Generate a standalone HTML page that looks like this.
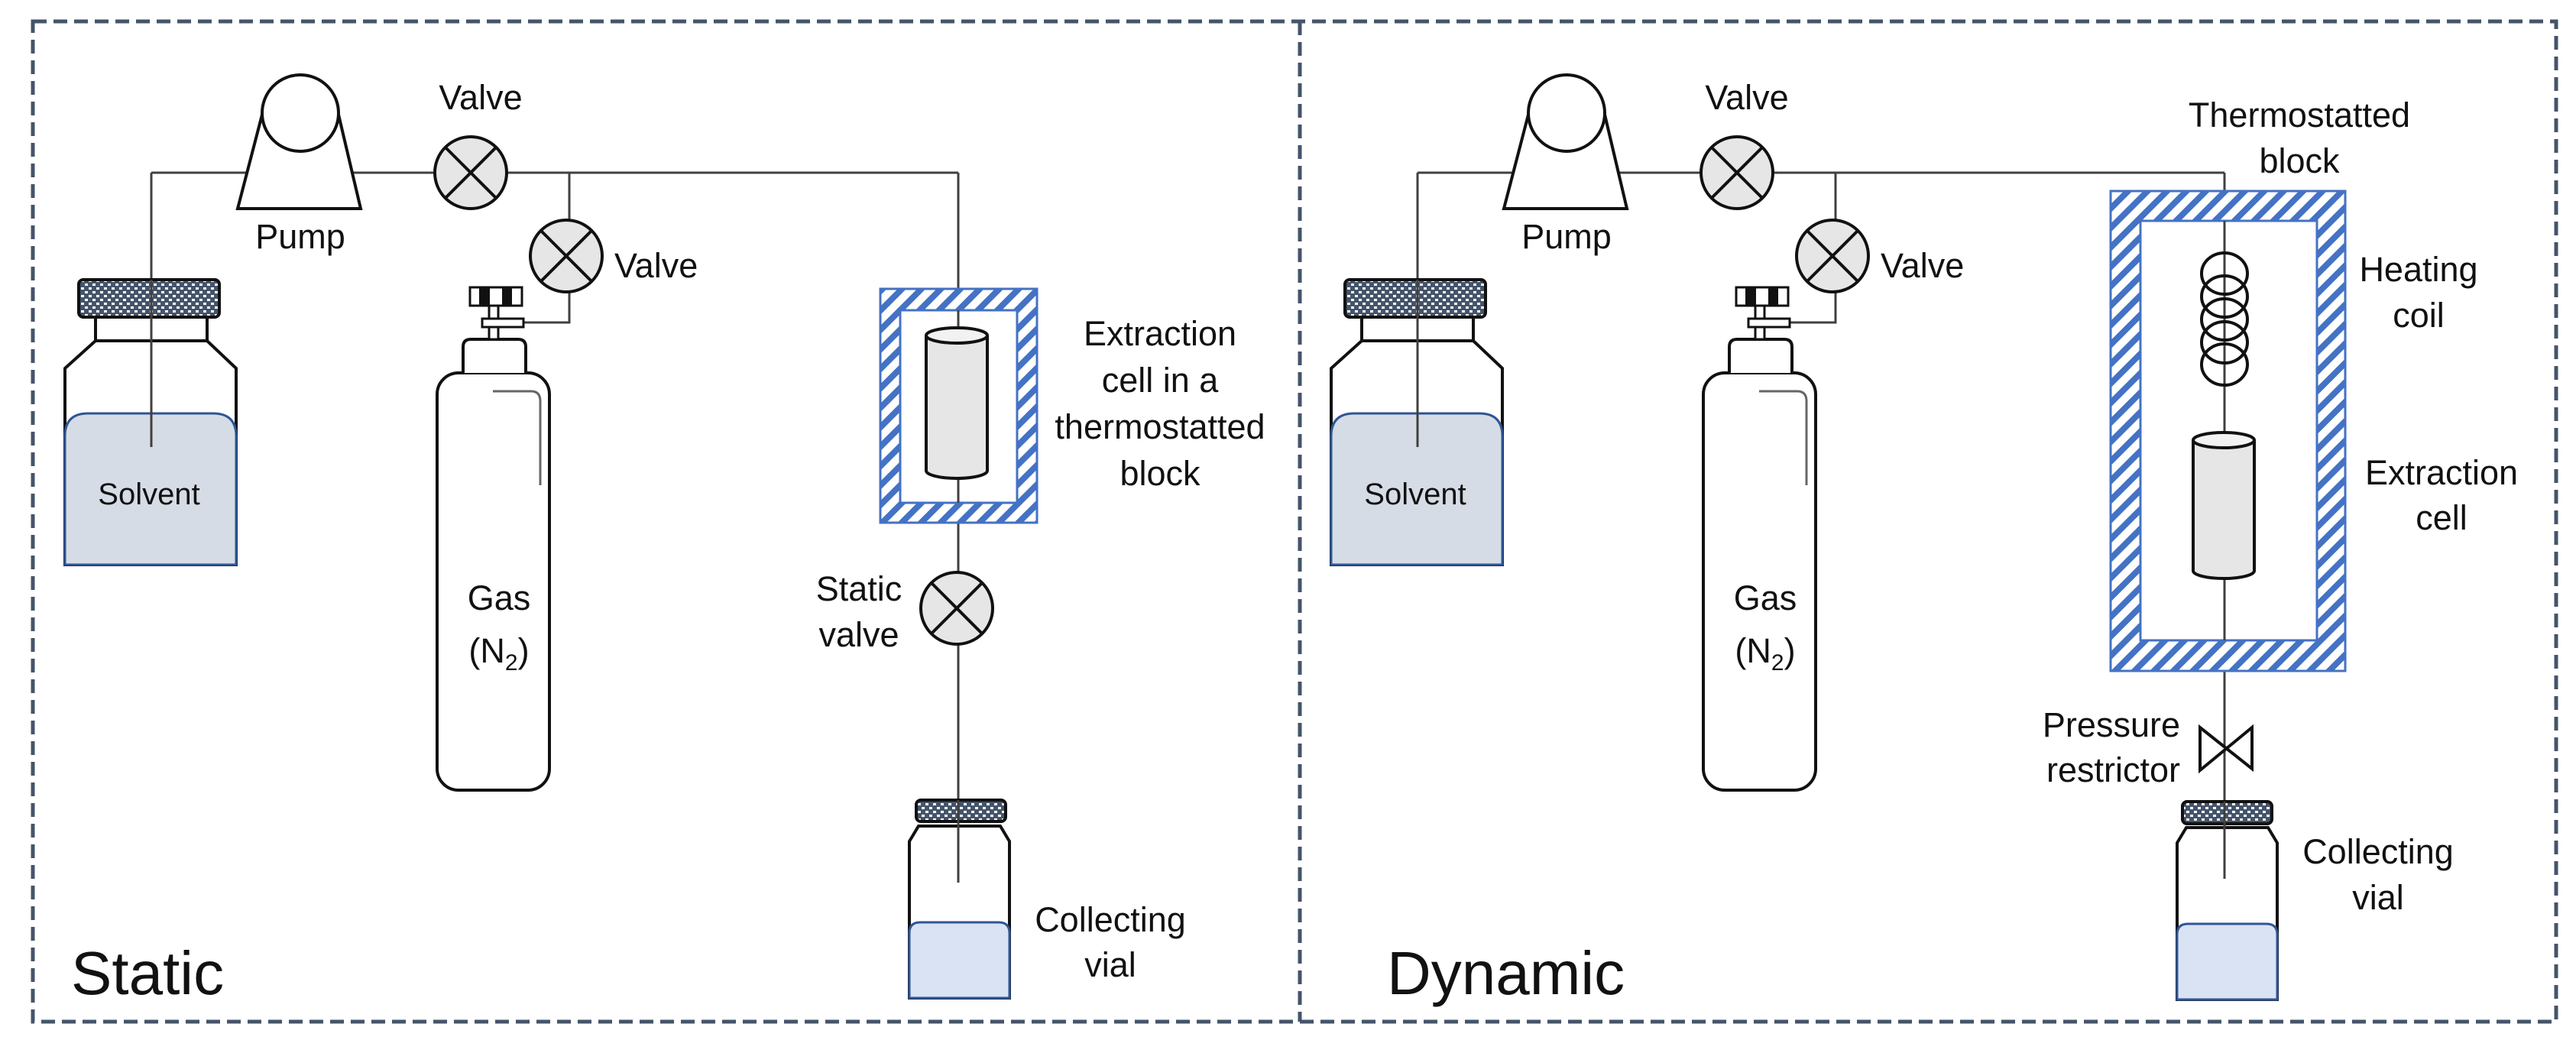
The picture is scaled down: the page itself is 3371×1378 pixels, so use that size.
<!DOCTYPE html>
<html><head><meta charset="utf-8"><style>html,body{margin:0;padding:0;background:#fff}svg{display:block}text{font-family:"Liberation Sans",Arial,sans-serif;fill:#111}</style></head>
<body>
<svg width="3371" height="1378" viewBox="0 0 3371 1378" xmlns="http://www.w3.org/2000/svg">
<defs>
<pattern id="hatch" patternUnits="userSpaceOnUse" width="18" height="18" patternTransform="rotate(45)">
<rect width="18" height="18" fill="#fff"/><rect width="8" height="18" fill="#4472c4"/>
</pattern>
<pattern id="chk" patternUnits="userSpaceOnUse" width="10" height="10">
<rect width="10" height="10" fill="#44546a"/><rect x="1" y="1" width="4" height="3" fill="#fff"/><rect x="6" y="6" width="4" height="3" fill="#fff"/>
</pattern>
<g id="valve"><circle r="47" fill="#e7e6e6" stroke="#111" stroke-width="4"/><line x1="-33" y1="-33" x2="33" y2="33" stroke="#111" stroke-width="4"/><line x1="33" y1="-33" x2="-33" y2="33" stroke="#111" stroke-width="4"/></g>
<g id="common">
<polyline points="198,585 198,226" fill="none" stroke="#404040" stroke-width="3"/>
<line x1="198" y1="226" x2="1254" y2="226" stroke="#404040" stroke-width="3"/>
<polyline points="745,226 745,422 685,422" fill="none" stroke="#404040" stroke-width="3"/>
<polygon points="343,150 443,150 472,273 311,273" fill="#fff" stroke="#111" stroke-width="4"/>
<circle cx="393" cy="148" r="50" fill="#fff" stroke="#111" stroke-width="4"/>
<text x="393" y="325" font-size="45" text-anchor="middle">Pump</text>
<use href="#valve" x="616" y="226"/>
<text x="629" y="143" font-size="45" text-anchor="middle">Valve</text>
<use href="#valve" x="741" y="335"/>
<text x="804" y="363" font-size="45">Valve</text>
<rect x="572" y="488" width="147" height="546" rx="28" fill="#fff" stroke="#111" stroke-width="4"/>
<path d="M606,488 L606,454 Q606,444 616,444 L678,444 Q688,444 688,454 L688,488" fill="#fff" stroke="#111" stroke-width="4"/>
<rect x="640" y="400" width="12" height="44" fill="#fff" stroke="#111" stroke-width="3"/>
<rect x="631" y="417" width="54" height="11" fill="#fff" stroke="#111" stroke-width="3"/>
<rect x="615" y="376" width="68" height="24" fill="#fff" stroke="#111" stroke-width="3"/>
<rect x="627" y="376" width="14" height="24" fill="#111"/><rect x="657" y="376" width="13" height="24" fill="#111"/>
<path d="M645,512 L695,512 Q707,512 707,525 L707,635" fill="none" stroke="#666" stroke-width="3"/>
<text x="653" y="798" font-size="45" text-anchor="middle">Gas</text>
<text x="653" y="867" font-size="45" text-anchor="middle">(N<tspan font-size="30" dy="10">2</tspan><tspan dy="-10">)</tspan></text>
<path d="M125,446 L271,446 L309,482 L309,739 L85,739 L85,482 Z" fill="#fff" stroke="#111" stroke-width="4"/>
<rect x="125" y="415" width="146" height="31" fill="#fff" stroke="#111" stroke-width="4"/>
<path d="M85,739 L85,571 Q85,541 115,541 L279,541 Q309,541 309,571 L309,739 Z" fill="#d6dce5" stroke="#2f5597" stroke-width="3"/>
<rect x="103" y="366" width="184" height="49" rx="6" fill="url(#chk)" stroke="#111" stroke-width="4"/>
<line x1="198" y1="366" x2="198" y2="585" stroke="#404040" stroke-width="3"/>
<text x="195" y="660" font-size="40" text-anchor="middle">Solvent</text>
</g>
<g id="vial">
<path d="M12,0 L119,0 L131,20 L131,225 L0,225 L0,20 Z" fill="#fff" stroke="#111" stroke-width="4"/>
<path d="M0,225 L0,140 Q0,126 14,126 L117,126 Q131,126 131,140 L131,225 Z" fill="#dae3f3" stroke="#2f5597" stroke-width="3"/>
</g>
</defs>

<g fill="none" stroke="#44546a" stroke-width="5" stroke-dasharray="18 9">
<rect x="43" y="28" width="3302" height="1309"/>
<line x1="1701" y1="28" x2="1701" y2="1337"/>
</g>

<use href="#common"/>
<line x1="1254" y1="226" x2="1254" y2="1155" stroke="#404040" stroke-width="3"/>
<rect x="1152" y="378" width="205" height="306" fill="url(#hatch)" stroke="#4472c4" stroke-width="3"/>
<rect x="1178" y="406" width="153" height="252" fill="#fff" stroke="#4472c4" stroke-width="3"/>
<line x1="1254" y1="406" x2="1254" y2="658" stroke="#404040" stroke-width="3"/>
<path d="M1212,439 L1212,616 A40,10 0 0 0 1292,616 L1292,439" fill="#e7e6e6" stroke="#111" stroke-width="4"/>
<ellipse cx="1252" cy="439" rx="40" ry="10" fill="#f2f2f2" stroke="#111" stroke-width="4"/>
<text font-size="45" text-anchor="middle"><tspan x="1518" y="452">Extraction</tspan><tspan x="1518" y="513">cell in a</tspan><tspan x="1518" y="574">thermostatted</tspan><tspan x="1518" y="635">block</tspan></text>
<use href="#valve" x="1252" y="796"/>
<text font-size="45" text-anchor="middle"><tspan x="1124" y="786">Static</tspan><tspan x="1124" y="846">valve</tspan></text>
<use href="#vial" x="1190" y="1081"/>
<rect x="1199" y="1047" width="117" height="28" rx="6" fill="url(#chk)" stroke="#111" stroke-width="4"/>
<line x1="1254" y1="1047" x2="1254" y2="1155" stroke="#404040" stroke-width="3"/>
<text font-size="45" text-anchor="middle"><tspan x="1453" y="1219">Collecting</tspan><tspan x="1453" y="1278">vial</tspan></text>
<text x="93" y="1301" font-size="80">Static</text>

<use href="#common" x="1657"/>
<line x1="2500" y1="226" x2="2911" y2="226" stroke="#404040" stroke-width="3"/>
<line x1="2911" y1="226" x2="2911" y2="1150" stroke="#404040" stroke-width="3"/>
<rect x="2762" y="250" width="307" height="628" fill="url(#hatch)" stroke="#4472c4" stroke-width="3"/>
<rect x="2801" y="289" width="231" height="549" fill="#fff" stroke="#4472c4" stroke-width="3"/>
<line x1="2911" y1="289" x2="2911" y2="838" stroke="#404040" stroke-width="3"/>
<g fill="none" stroke="#111" stroke-width="4">
<ellipse cx="2911" cy="358" rx="30" ry="27"/><ellipse cx="2911" cy="388" rx="30" ry="27"/><ellipse cx="2911" cy="418" rx="30" ry="27"/><ellipse cx="2911" cy="448" rx="30" ry="27"/><ellipse cx="2911" cy="477" rx="30" ry="27"/>
</g>
<path d="M2870,576 L2870,747 A40,10 0 0 0 2950,747 L2950,576" fill="#e7e6e6" stroke="#111" stroke-width="4"/>
<ellipse cx="2910" cy="576" rx="40" ry="10" fill="#f2f2f2" stroke="#111" stroke-width="4"/>
<path d="M2879,952 L2947,1006 L2947,952 L2879,1008 Z" fill="#fff" stroke="#111" stroke-width="4"/>
<use href="#vial" x="2849" y="1083"/>
<rect x="2856" y="1049" width="117" height="29" rx="6" fill="url(#chk)" stroke="#111" stroke-width="4"/>
<line x1="2911" y1="1049" x2="2911" y2="1150" stroke="#404040" stroke-width="3"/>
<text font-size="45" text-anchor="middle"><tspan x="3009" y="166">Thermostatted</tspan><tspan x="3009" y="226">block</tspan></text>
<text font-size="45" text-anchor="middle"><tspan x="3165" y="368">Heating</tspan><tspan x="3165" y="428">coil</tspan></text>
<text font-size="45" text-anchor="middle"><tspan x="3195" y="634">Extraction</tspan><tspan x="3195" y="693">cell</tspan></text>
<text font-size="45" text-anchor="end"><tspan x="2853" y="964">Pressure</tspan><tspan x="2853" y="1023">restrictor</tspan></text>
<text font-size="45" text-anchor="middle"><tspan x="3112" y="1130">Collecting</tspan><tspan x="3112" y="1190">vial</tspan></text>
<text x="1815" y="1301" font-size="80">Dynamic</text>
</svg>
</body></html>
